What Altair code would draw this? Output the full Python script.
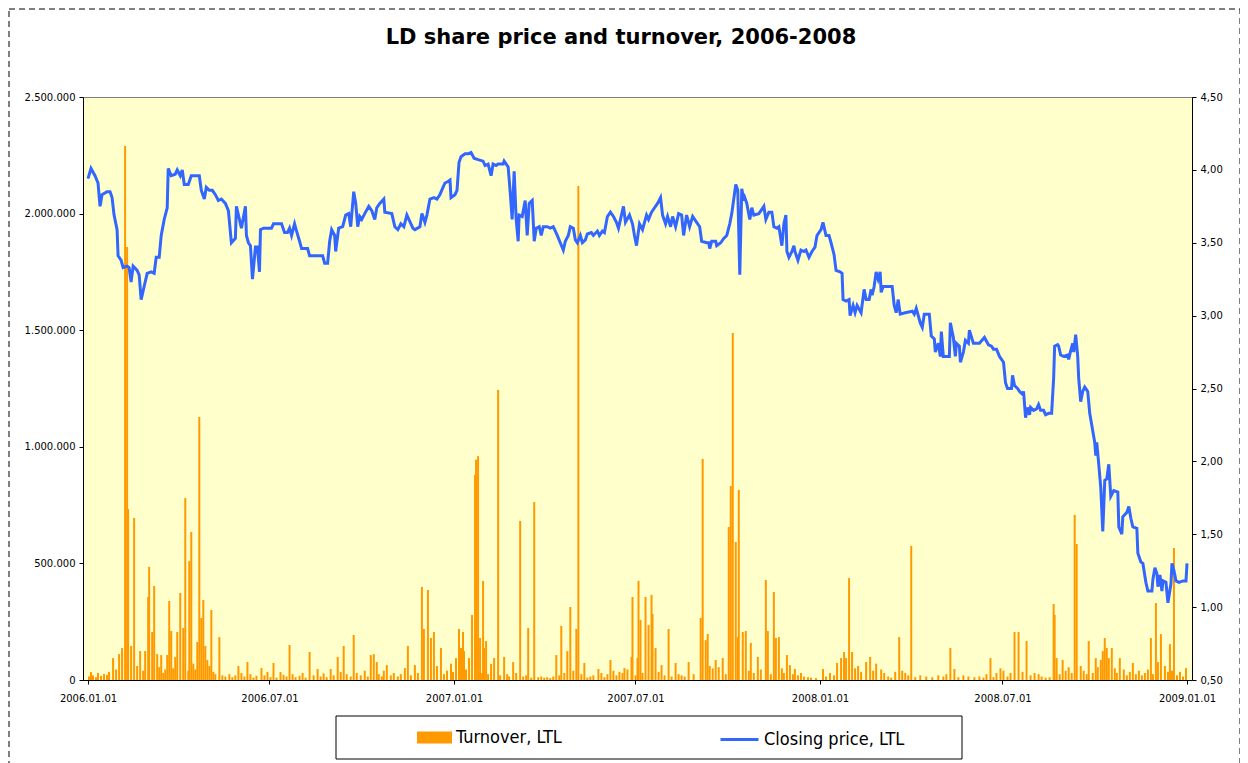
import altair as alt
import pandas as pd

START = pd.Timestamp("2006-01-01")

# Closing price, LTL : (days since 2006-01-01, price)
price_points = [
    (0, 3.94), (3, 4.01), (7, 3.96), (10, 3.91), (12, 3.75), (14, 3.83), (19, 3.85), (22, 3.85), (24, 3.81), (26, 3.69),
    (29, 3.59), (30, 3.41), (33, 3.38), (35, 3.33), (39, 3.34), (41, 3.33), (43, 3.23), (45, 3.34), (49, 3.31), (51, 3.28),
    (53, 3.11), (56, 3.20), (59, 3.29), (63, 3.30), (66, 3.29), (68, 3.40), (71, 3.40), (73, 3.55), (76, 3.66), (79, 3.74),
    (80, 4.01), (83, 3.96), (87, 3.97), (89, 4.00), (92, 3.96), (94, 4.00), (96, 3.90), (100, 3.90), (103, 3.96), (111, 3.96),
    (113, 3.86), (116, 3.80), (118, 3.88), (121, 3.86), (124, 3.86), (127, 3.83), (130, 3.79), (133, 3.80), (137, 3.77), (140, 3.72),
    (143, 3.50), (147, 3.53), (148, 3.75), (151, 3.66), (153, 3.60), (157, 3.75), (158, 3.55), (160, 3.50), (162, 3.48), (164, 3.25),
    (167, 3.47), (169, 3.47), (171, 3.30), (172, 3.59), (175, 3.60), (183, 3.60), (185, 3.63), (193, 3.63), (196, 3.57), (199, 3.57),
    (201, 3.60), (203, 3.55), (206, 3.63), (208, 3.58), (211, 3.51), (213, 3.46), (219, 3.46), (221, 3.41), (234, 3.41), (236, 3.36),
    (239, 3.36), (241, 3.51), (243, 3.59), (246, 3.55), (247, 3.44), (250, 3.60), (254, 3.61), (257, 3.69), (260, 3.70), (262, 3.61),
    (265, 3.85), (267, 3.77), (269, 3.61), (271, 3.68), (273, 3.66), (276, 3.70), (280, 3.75), (283, 3.72), (286, 3.66), (288, 3.74),
    (291, 3.77), (295, 3.80), (296, 3.71), (303, 3.70), (306, 3.61), (309, 3.59), (312, 3.63), (315, 3.61), (318, 3.69), (320, 3.66),
    (324, 3.60), (326, 3.59), (331, 3.61), (333, 3.70), (336, 3.64), (338, 3.69), (341, 3.80), (345, 3.81), (348, 3.80), (351, 3.83),
    (354, 3.88), (356, 3.91), (359, 3.92), (361, 3.93), (362, 3.81), (366, 3.83), (368, 3.86), (370, 4.05), (372, 4.09), (376, 4.11),
    (379, 4.11), (382, 4.12), (385, 4.08), (389, 4.07), (394, 4.06), (396, 4.03), (399, 4.04), (402, 3.96), (404, 4.04), (407, 4.03),
    (409, 4.04), (414, 4.04), (415, 4.06), (419, 4.02), (421, 3.85), (423, 3.66), (425, 3.99), (427, 3.66), (429, 3.51), (430, 3.69),
    (433, 3.68), (436, 3.79), (438, 3.55), (440, 3.77), (443, 3.79), (445, 3.51), (447, 3.60), (450, 3.61), (452, 3.55), (454, 3.61),
    (458, 3.61), (461, 3.60), (464, 3.61), (468, 3.55), (471, 3.50), (474, 3.45), (476, 3.51), (479, 3.55), (481, 3.61), (484, 3.60),
    (486, 3.52), (488, 3.50), (491, 3.55), (493, 3.50), (496, 3.52), (498, 3.56), (502, 3.57), (504, 3.55), (508, 3.58), (510, 3.55),
    (513, 3.58), (515, 3.57), (518, 3.68), (521, 3.71), (524, 3.68), (527, 3.64), (529, 3.60), (532, 3.69), (534, 3.75), (536, 3.64),
    (540, 3.69), (543, 3.63), (545, 3.55), (547, 3.48), (550, 3.63), (553, 3.59), (557, 3.69), (559, 3.66), (562, 3.71), (565, 3.74),
    (568, 3.77), (571, 3.81), (573, 3.69), (576, 3.63), (578, 3.68), (581, 3.61), (583, 3.68), (586, 3.61), (589, 3.70), (592, 3.69),
    (594, 3.55), (597, 3.69), (600, 3.61), (603, 3.68), (607, 3.64), (610, 3.61), (612, 3.51), (617, 3.50), (619, 3.50), (620, 3.46),
    (622, 3.51), (626, 3.51), (627, 3.48), (631, 3.50), (634, 3.53), (637, 3.55), (640, 3.63), (642, 3.70), (646, 3.90), (648, 3.86),
    (650, 3.28), (652, 3.87), (654, 3.79), (655, 3.81), (657, 3.77), (660, 3.66), (662, 3.74), (664, 3.69), (669, 3.70), (674, 3.75),
    (676, 3.66), (679, 3.71), (682, 3.71), (684, 3.61), (687, 3.60), (689, 3.61), (692, 3.48), (694, 3.63), (696, 3.69), (697, 3.44),
    (699, 3.40), (702, 3.44), (704, 3.48), (705, 3.44), (708, 3.38), (711, 3.45), (714, 3.44), (716, 3.45), (719, 3.40), (722, 3.44),
    (725, 3.47), (727, 3.55), (731, 3.59), (733, 3.64), (736, 3.55), (739, 3.55), (741, 3.50), (744, 3.42), (746, 3.31), (750, 3.30),
    (752, 3.29), (753, 3.11), (756, 3.10), (759, 3.11), (760, 3.00), (763, 3.07), (765, 3.02), (767, 3.07), (771, 3.02), (774, 3.18),
    (776, 3.11), (779, 3.11), (781, 3.18), (782, 3.14), (784, 3.20), (786, 3.30), (788, 3.25), (790, 3.30), (791, 3.16), (793, 3.20),
    (802, 3.20), (804, 3.07), (806, 3.02), (808, 3.11), (810, 3.01), (815, 3.02), (822, 3.03), (824, 3.01), (826, 3.05), (830, 2.95),
    (832, 2.92), (834, 3.01), (839, 3.01), (841, 2.86), (844, 2.84), (845, 2.75), (848, 2.81), (850, 2.72), (851, 2.89), (853, 2.72),
    (859, 2.72), (860, 2.95), (863, 2.85), (865, 2.72), (866, 2.81), (869, 2.79), (870, 2.68), (873, 2.75), (875, 2.83), (878, 2.81),
    (879, 2.90), (883, 2.81), (889, 2.81), (894, 2.85), (898, 2.80), (901, 2.79), (903, 2.77), (906, 2.77), (909, 2.72), (913, 2.68),
    (915, 2.54), (917, 2.50), (921, 2.50), (922, 2.59), (924, 2.52), (927, 2.50), (929, 2.48), (932, 2.46), (933, 2.48), (935, 2.30),
    (937, 2.37), (939, 2.32), (940, 2.37), (943, 2.35), (946, 2.36), (948, 2.39), (950, 2.35), (953, 2.35), (955, 2.32), (958, 2.33),
    (961, 2.33), (963, 2.57), (964, 2.79), (967, 2.80), (968, 2.79), (970, 2.73), (973, 2.72), (977, 2.73), (978, 2.70), (980, 2.76),
    (982, 2.81), (983, 2.75), (985, 2.87), (987, 2.72), (988, 2.57), (990, 2.41), (992, 2.48), (994, 2.51), (997, 2.48), (999, 2.33),
    (1002, 2.21), (1004, 2.13), (1005, 2.04), (1006, 2.13), (1008, 1.98), (1010, 1.82), (1012, 1.52), (1014, 1.87), (1016, 1.88), (1018, 1.98),
    (1020, 1.76), (1023, 1.80), (1027, 1.79), (1028, 1.55), (1031, 1.50), (1032, 1.62), (1036, 1.65), (1038, 1.69), (1040, 1.61), (1042, 1.55),
    (1046, 1.54), (1047, 1.37), (1050, 1.31), (1052, 1.30), (1055, 1.17), (1057, 1.11), (1061, 1.11), (1062, 1.19), (1064, 1.27), (1066, 1.23),
    (1067, 1.14), (1069, 1.22), (1071, 1.11), (1072, 1.18), (1075, 1.17), (1077, 1.03), (1080, 1.16), (1081, 1.30), (1083, 1.25), (1085, 1.18),
    (1088, 1.17), (1092, 1.18), (1095, 1.18), (1096, 1.30),
]

# Turnover, thousand LTL : (days since 2006-01-01, turnover) - the visible spikes
turnover_spikes = [
    (3, 34), (16, 26), (25, 94), (31, 111), (34, 137), (37, 2290), (39, 1857), (40, 733), (43, 146), (46, 695),
    (52, 124), (57, 124), (60, 356), (61, 485), (64, 206), (66, 403), (69, 111), (73, 107), (79, 107), (81, 339),
    (83, 210), (87, 99), (89, 206), (92, 373), (95, 223), (97, 780), (101, 510), (103, 635), (109, 163), (111, 1128),
    (113, 266), (115, 343), (117, 146), (119, 86), (123, 300), (131, 184), (150, 60), (159, 77), (173, 51), (185, 73),
    (192, 34), (201, 150), (221, 120), (229, 47), (242, 47), (249, 99), (255, 146), (265, 193), (282, 107), (285, 111),
    (288, 77), (298, 64), (316, 51), (319, 146), (326, 64), (333, 399), (335, 219), (339, 386), (342, 180), (345, 206),
    (352, 137), (367, 94), (370, 219), (372, 137), (374, 206), (375, 124), (380, 94), (383, 279), (386, 880), (387, 945),
    (389, 960), (391, 180), (394, 425), (395, 137), (397, 167), (402, 69), (405, 94), (409, 1244), (415, 99), (424, 77),
    (431, 682), (439, 223), (445, 763), (467, 107), (472, 232), (478, 124), (481, 313), (487, 219), (489, 2118), (495, 73),
    (509, 47), (521, 86), (535, 51), (542, 99), (543, 356), (548, 94), (549, 425), (551, 257), (556, 356), (559, 236),
    (562, 365), (563, 283), (566, 137), (572, 64), (579, 219), (586, 73), (599, 77), (611, 266), (613, 948), (616, 171),
    (618, 197), (626, 86), (633, 94), (639, 656), (641, 832), (643, 1488), (646, 592), (648, 184), (649, 815), (653, 206),
    (656, 210), (661, 159), (668, 99), (676, 429), (678, 210), (684, 377), (686, 180), (689, 184), (697, 107), (700, 64),
    (705, 47), (733, 47), (747, 73), (751, 94), (754, 120), (756, 94), (759, 437), (762, 120), (776, 77), (780, 99),
    (809, 184), (821, 575), (860, 137), (864, 47), (900, 94), (924, 206), (928, 206), (936, 167), (963, 326), (964, 279),
    (966, 94), (972, 86), (984, 708), (986, 583), (998, 167), (1005, 94), (1010, 86), (1012, 124), (1014, 180), (1016, 137),
    (1018, 94), (1021, 137), (1029, 94), (1042, 73), (1060, 180), (1065, 330), (1067, 77), (1070, 197), (1079, 154), (1083, 566),
    (1095, 51),
]

# Turnover, thousand LTL : the many small daily values along the base
turnover_small = [
    (1, 15), (5, 20), (8, 12), (10, 30), (13, 18), (19, 22), (21, 35), (28, 45), (49, 60), (55, 40),
    (71, 55), (75, 30), (77, 45), (85, 50), (100, 40), (105, 70), (107, 45), (121, 60), (125, 35), (127, 25),
    (134, 20), (137, 15), (141, 25), (144, 12), (147, 20), (153, 30), (156, 15), (162, 25), (165, 10), (168, 18),
    (176, 20), (179, 35), (182, 12), (188, 10), (195, 22), (198, 15), (204, 25), (207, 12), (211, 18), (214, 30),
    (217, 10), (225, 20), (232, 15), (235, 28), (238, 12), (245, 20), (252, 35), (258, 25), (262, 15), (268, 30),
    (272, 20), (276, 40), (279, 15), (290, 25), (293, 15), (295, 40), (302, 20), (305, 30), (309, 15), (312, 25),
    (322, 20), (329, 30), (348, 60), (355, 25), (358, 40), (362, 70), (364, 35), (377, 45), (393, 30), (399, 25),
    (411, 20), (418, 25), (420, 15), (427, 30), (434, 15), (437, 20), (442, 10), (449, 12), (452, 15), (455, 10),
    (458, 12), (461, 8), (464, 15), (470, 20), (475, 30), (484, 40), (492, 25), (498, 10), (501, 15), (504, 20),
    (512, 30), (515, 12), (518, 25), (524, 40), (527, 20), (530, 35), (533, 30), (538, 45), (546, 20), (553, 30),
    (569, 35), (575, 20), (582, 15), (589, 25), (592, 20), (595, 15), (604, 25), (620, 60), (623, 50), (629, 55),
    (636, 25), (659, 40), (664, 30), (671, 45), (681, 25), (692, 50), (694, 30), (703, 25), (708, 20), (711, 30),
    (714, 15), (718, 12), (721, 10), (726, 8), (736, 15), (740, 30), (744, 20), (765, 50), (768, 60), (771, 35),
    (783, 40), (786, 70), (791, 45), (794, 30), (798, 15), (801, 10), (805, 35), (812, 40), (815, 30), (818, 20),
    (825, 12), (830, 20), (836, 15), (842, 12), (848, 20), (853, 15), (856, 25), (868, 12), (873, 20), (878, 15),
    (884, 12), (889, 15), (893, 10), (896, 25), (903, 12), (906, 30), (910, 50), (913, 40), (917, 15), (920, 30),
    (932, 35), (940, 20), (944, 30), (948, 25), (951, 15), (955, 10), (959, 12), (969, 25), (975, 40), (978, 55),
    (981, 30), (990, 60), (993, 40), (996, 25), (1002, 30), (1007, 55), (1024, 50), (1026, 30), (1033, 45), (1036, 20),
    (1039, 35), (1045, 25), (1048, 40), (1051, 20), (1054, 30), (1057, 45), (1062, 25), (1074, 60), (1077, 35), (1081, 40),
    (1086, 20), (1089, 35), (1092, 15),
]

x_ticks = ["2006-01-01", "2006-07-01", "2007-01-01", "2007-07-01", "2008-01-01", "2008-07-01", "2009-01-01"]
left_ticks = [0, 500000, 1000000, 1500000, 2000000, 2500000]
right_ticks = [0.5, 1.0, 1.5, 2.0, 2.5, 3.0, 3.5, 4.0, 4.5]
series_names = ["Turnover, LTL", "Closing price, LTL"]
TITLE = "LD share price and turnover, 2006-2008"


def to_date(d):
    return (START + pd.Timedelta(days=d)).strftime("%Y-%m-%d")


def ms(s):
    return int(pd.Timestamp(s).value // 10**6)


price_df = pd.DataFrame({
    "date": [to_date(d) for d, _ in price_points],
    "price": [p for _, p in price_points],
    "series": series_names[1],
})
turn_all = turnover_spikes + turnover_small
turn_df = pd.DataFrame({
    "date": [to_date(d) for d, _ in turn_all],
    "turnover": [v * 1000 for _, v in turn_all],
    "series": series_names[0],
})
one = pd.DataFrame({"title": [TITLE]})

FONT = "DejaVu Sans"
LEG_FONT = "DejaVu Sans Condensed, DejaVu Sans, sans-serif"

x_enc = alt.X(
    "date:T",
    scale=alt.Scale(type="utc", domain=[ms(x_ticks[0]), ms(x_ticks[-1])], nice=False),
    axis=alt.Axis(
        values=[ms(s) for s in x_ticks],
        labelExpr="utcFormat(datum.value, '%Y.%m.%d')",
        title=None, grid=False, labelFlush=False, labelOverlap=False,
        tickSize=4, labelPadding=9, domainColor="black", tickColor="black",
        labelColor="black", labelFont=FONT, labelFontSize=10,
    ),
)

bars = alt.Chart(turn_df).mark_bar(size=2).encode(
    x=x_enc,
    y=alt.Y(
        "turnover:Q", stack=None,
        scale=alt.Scale(domain=[0, 2500000], nice=False, zero=True),
        axis=alt.Axis(
            orient="left", values=left_ticks,
            labelExpr="replace(replace(format(datum.value, ','), ',', '.'), ',', '.')",
            title=None, grid=False, tickSize=4, labelPadding=4,
            domainColor="black", tickColor="black", labelColor="black",
            labelFont=FONT, labelFontSize=10,
        ),
    ),
    fill=alt.Fill(
        "series:N",
        scale=alt.Scale(domain=[series_names[0]], range=["#FF9900"]),
        legend=alt.Legend(
            title=None, orient="none", legendX=334, legendY=623, padding=0,
            symbolType="M-1,-0.34H1V0.34H-1Z", symbolSize=1225, symbolStrokeWidth=0,
            labelFont=LEG_FONT, labelFontSize=18, labelColor="black", labelOffset=4,
        ),
    ),
)

line = alt.Chart(price_df).mark_line(strokeWidth=3).encode(
    x=x_enc,
    y=alt.Y(
        "price:Q",
        scale=alt.Scale(domain=[0.5, 4.5], nice=False, zero=False),
        axis=alt.Axis(
            orient="right", values=right_ticks,
            labelExpr="replace(format(datum.value, '.2f'), '.', ',')",
            title=None, grid=False, tickSize=4, labelPadding=4,
            domainColor="black", tickColor="black", labelColor="black",
            labelFont=FONT, labelFontSize=10,
        ),
    ),
    stroke=alt.Stroke(
        "series:N",
        scale=alt.Scale(domain=[series_names[1]], range=["#3366FF"]),
        legend=alt.Legend(
            title=None, orient="none", legendX=636, legendY=622, padding=0,
            symbolType="stroke", symbolSize=1444, symbolStrokeWidth=3,
            labelFont=LEG_FONT, labelFontSize=18, labelColor="black", labelOffset=4,
        ),
    ),
)

# decorations: dashed chart frame, legend box, chart title
frame = alt.Chart(one).mark_rect(
    fillOpacity=0, stroke="black", strokeWidth=1, strokeDash=[6, 4]
).encode(x=alt.value(-74), x2=alt.value(1157), y=alt.value(-88), y2=alt.value(720))

legend_box = alt.Chart(one).mark_rect(
    fill="white", stroke="black", strokeWidth=1
).encode(x=alt.value(253), x2=alt.value(879), y=alt.value(619), y2=alt.value(662))

title_text = alt.Chart(one).mark_text(
    font=FONT, fontSize=21, fontWeight="bold", color="black",
    align="center", baseline="alphabetic",
).encode(text="title:N", x=alt.value(538), y=alt.value(-53))

chart = alt.layer(frame, legend_box, title_text, bars, line).resolve_scale(
    y="independent"
).properties(
    width=1109,
    height=583,
    autosize=alt.AutoSizeParams(type="none"),
    padding={"left": 75, "top": 89, "right": 48, "bottom": 83},
).configure(
    background="white",
).configure_view(
    fill="#FFFFCC", stroke="#808080", strokeWidth=1,
)

chart.save("out.html", embed_options={"renderer": "svg", "actions": False})
